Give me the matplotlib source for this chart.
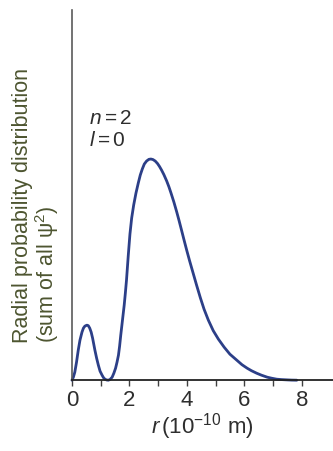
import matplotlib
matplotlib.use('Agg')
import matplotlib.pyplot as plt

plt.rcParams['font.family'] = ['Liberation Sans', 'DejaVu Sans']
plt.rcParams['mathtext.fontset'] = 'custom'
plt.rcParams['mathtext.rm'] = 'Liberation Sans'
plt.rcParams['mathtext.it'] = 'Liberation Sans:italic'

# values (r in 1e-10 m, arbitrary probability units)
r_vals = [0.0, 0.05, 0.10, 0.16, 0.22, 0.28, 0.35, 0.40, 0.45, 0.52, 0.57, 0.62,
          0.67, 0.72, 0.76, 0.80, 0.86, 0.92, 0.98, 1.05, 1.10, 1.15, 1.21, 1.27,
          1.33, 1.40, 1.46, 1.52, 1.57, 1.62, 1.66, 1.70, 1.74, 1.78, 1.82, 1.86,
          1.90, 1.96, 2.02, 2.08, 2.15, 2.23, 2.31, 2.38, 2.45, 2.52, 2.60, 2.68,
          2.75, 2.82, 2.90, 2.98, 3.05, 3.12, 3.20, 3.30, 3.38, 3.45, 3.55, 3.65,
          3.73, 3.82, 3.90, 4.00, 4.10, 4.20, 4.34, 4.47, 4.60, 4.75, 4.92, 5.10,
          5.30, 5.50, 5.74, 5.92, 6.10, 6.25, 6.43, 6.60, 6.80, 6.95, 7.13, 7.30,
          7.50, 7.65, 7.83]
prob = [0, 3, 8, 18, 30, 40, 48, 52, 54, 55, 54.5, 52,
        48, 42, 36, 30, 22, 15, 9, 5, 2.5, 1, 0.2, 0,
        0.8, 3, 7, 12, 18, 25, 34, 45, 55, 65, 75, 87,
        100, 124, 146, 162, 175, 187, 197, 205, 211, 216, 219, 220.7,
        221, 220.5, 219, 216.5, 213.5, 210, 205.5, 199, 193, 187, 178, 168,
        159.5, 149.5, 140.5, 129.5, 119, 109, 95, 82.5, 71, 60, 49.5, 41,
        33, 26, 20, 15.5, 12, 9.5, 7, 5, 3, 2, 1, 0.6,
        0.3, 0.1, 0]
major_ticks = [0, 2, 4, 6, 8]
minor_ticks = [1, 3, 5, 7]

fig = plt.figure(figsize=(3.33, 4.51), dpi=100)
ax = fig.add_axes([0.216, 0.157, 0.784, 0.821])

ax.plot(r_vals, prob, color='#2c3f88', lw=2.0, solid_capstyle='round',
        solid_joinstyle='round', clip_on=False)

ax.set_xlim(0, 9.09)
ax.set_ylim(0, 370)
ax.set_xticks(major_ticks)
ax.set_xticks(minor_ticks, minor=True)
ax.set_yticks([])
ax.tick_params(axis='x', which='both', direction='out', length=4, width=1,
               color='#404040', labelsize=16, pad=3, labelcolor='#2e2e2e')

for side in ['top', 'right']:
    ax.spines[side].set_visible(False)
ax.spines['left'].set_color('#5a5a5a')
ax.spines['left'].set_linewidth(1.2)
ax.spines['bottom'].set_color('#222222')
ax.spines['bottom'].set_linewidth(1.3)

ax.set_xlabel(r'$r\,$(10$^{-10}$ m)', fontsize=16, color='#2e2e2e', labelpad=0)

fig.text(0.11, 0.24, 'Radial probability distribution\n(sum of all \u03c8$^2$)',
         rotation=90, ha='center', va='bottom', multialignment='left',
         fontsize=15.5, color='#4d5530', linespacing=1.0)

ax.text(0.6, 262, r'$n=2$', fontsize=15, color='#2e2e2e', va='center')
ax.text(0.6, 240, r'$l=0$', fontsize=15, color='#2e2e2e', va='center')

fig.savefig('out.png', dpi=100)
